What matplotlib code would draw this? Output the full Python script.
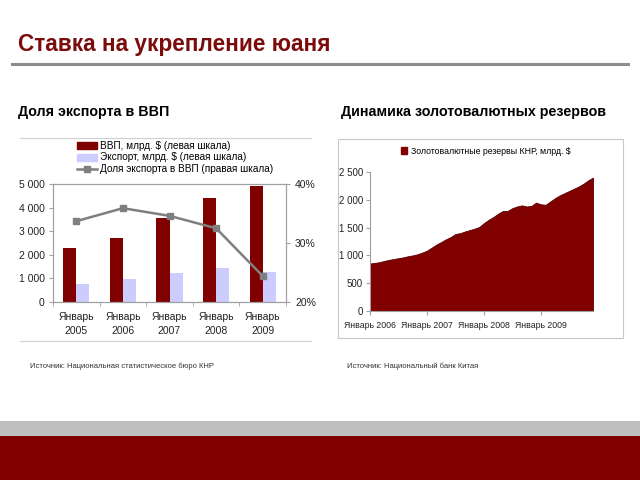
import numpy as np
import matplotlib.pyplot as plt
from matplotlib.lines import Line2D
from matplotlib.patches import Patch, Rectangle

plt.rcParams['font.family'] = ['Liberation Sans', 'DejaVu Sans']

# данные: левый график
years = ['Январь\n2005', 'Январь\n2006', 'Январь\n2007', 'Январь\n2008', 'Январь\n2009']
gdp = [2290, 2710, 3560, 4400, 4910]
export = [760, 970, 1220, 1430, 1260]
share = [33.7, 35.9, 34.6, 32.5, 24.4]

# данные: правый график, помесячно янв 2006 - дек 2009
reserves = [855, 865, 878, 900, 920, 935, 950, 965, 985, 1000, 1020, 1050,
            1085, 1140, 1195, 1240, 1290, 1330, 1385, 1400, 1430, 1455, 1480, 1510,
            1580, 1640, 1690, 1750, 1800, 1800, 1850, 1880, 1900, 1880, 1890, 1950,
            1920, 1910, 1970, 2030, 2080, 2120, 2160, 2200, 2240, 2290, 2350, 2400]
res_ticks = [0, 12, 24, 36]
res_labels = ['Январь 2006', 'Январь 2007', 'Январь 2008', 'Январь 2009']

W, H = 640, 480
DARK = '#800000'
GRID = '#a0a0a0'


def px(x, y, w, h):
    # пиксели -> доли фигуры (y сверху)
    return [x / W, 1 - (y + h) / H, w / W, h / H]


fig = plt.figure(figsize=(6.4, 4.8), dpi=100)
bg = fig.add_axes([0, 0, 1, 1])
bg.set_xlim(0, W)
bg.set_ylim(H, 0)
bg.axis('off')

# шапка
bg.text(18, 45, 'Ставка на укрепление юаня', color='#7a0c0c', fontsize=16.3,
        fontweight='bold', va='center', ha='left')
bg.plot([12, 628], [64, 64], color='#8c8c8c', lw=2.2)
bg.text(18, 112, 'Доля экспорта в ВВП', fontsize=10.3, fontweight='bold', va='center')
bg.text(341, 112, 'Динамика золотовалютных резервов', fontsize=10.3, fontweight='bold', va='center')

# рамки графиков
bg.plot([20, 311], [138, 138], color='#d0d0d0', lw=0.8)
bg.plot([20, 311], [341, 341], color='#d0d0d0', lw=0.8)
bg.add_patch(Rectangle((338, 139), 285, 199, fill=False, ec='#c8c8c8', lw=0.8))

# подписи источников
bg.text(30, 366, 'Источник: Национальная статистическое бюро КНР', fontsize=5.5, va='center', color='#333333')
bg.text(347, 366, 'Источник: Национальный банк Китая', fontsize=5.5, va='center', color='#333333')

# нижние полосы
bg.add_patch(Rectangle((0, 421), W, 15, color='#c0bfc0', lw=0))
bg.add_patch(Rectangle((0, 436), W, 44, color=DARK, lw=0))

# левый график
ax = fig.add_axes(px(53, 184, 233, 118))
x = np.arange(len(years))
bw = 0.28
ax.bar(x - bw / 2, gdp, bw, color=DARK)
ax.bar(x + bw / 2, export, bw, color='#ccccff')
ax.set_xlim(-0.5, len(years) - 0.5)
ax.set_ylim(0, 5000)
ax.set_yticks([0, 1000, 2000, 3000, 4000, 5000])
ax.set_yticklabels(['0', '1 000', '2 000', '3 000', '4 000', '5 000'])
ax.set_xticks(x)
ax.set_xticklabels(years, linespacing=1.55)
ax.set_xticks(np.arange(-0.5, len(years)), minor=True)
ax.tick_params(axis='x', which='major', length=0, pad=7)
ax.tick_params(axis='x', which='minor', length=3, color=GRID)
ax.tick_params(axis='y', length=3, color=GRID, pad=3)
ax.tick_params(labelsize=7.5, labelcolor='#222222')
for s in ax.spines.values():
    s.set_color(GRID)
    s.set_linewidth(0.8)

ax2 = ax.twinx()
ax2.plot(x, share, color='#7f7f7f', lw=1.8, marker='s', ms=4)
ax2.set_ylim(20, 40)
ax2.set_yticks([20, 30, 40])
ax2.set_yticklabels(['20%', '30%', '40%'])
ax2.tick_params(axis='y', length=3, color=GRID, labelsize=7.5, labelcolor='#222222')
for s in ax2.spines.values():
    s.set_color(GRID)
    s.set_linewidth(0.8)

handles = [Patch(color=DARK), Patch(color='#ccccff'),
           Line2D([], [], color='#7f7f7f', lw=1.8, marker='s', ms=4)]
labels = ['ВВП, млрд. $ (левая шкала)', 'Экспорт, млрд. $ (левая шкала)',
          'Доля экспорта в ВВП (правая шкала)']
fig.legend(handles, labels, loc='upper left', bbox_to_anchor=(77 / W, 1 - 141 / H),
           frameon=False, fontsize=7.2, handlelength=2.0, handleheight=0.7,
           labelspacing=0.15, handletextpad=0.3, borderpad=0, borderaxespad=0)

# правый график
axr = fig.add_axes(px(370, 172, 223, 139))
m = np.arange(len(reserves))
axr.fill_between(m, reserves, color=DARK, lw=0.6, ec='#5a0000')
axr.set_xlim(0, len(reserves) - 1)
axr.set_ylim(0, 2500)
axr.set_yticks([0, 500, 1000, 1500, 2000, 2500])
axr.set_yticklabels(['0', '500', '1 000', '1 500', '2 000', '2 500'])
axr.set_xticks(res_ticks)
axr.set_xticklabels(res_labels, fontsize=6.3)
axr.tick_params(length=3, color=GRID, labelsize=7, labelcolor='#222222', pad=2)
axr.tick_params(axis='x', labelsize=6.3, pad=4)
axr.spines['top'].set_visible(False)
axr.spines['right'].set_visible(False)
for s in ['left', 'bottom']:
    axr.spines[s].set_color(GRID)
    axr.spines[s].set_linewidth(0.8)
axr.legend([Patch(color=DARK)], ['Золотовалютные резервы КНР, млрд. $'],
           loc='center', bbox_to_anchor=(0.52, 1.0 + 21 / 139), frameon=False,
           fontsize=6.3, handlelength=0.7, handleheight=0.7, handletextpad=0.4,
           borderpad=0, borderaxespad=0)

fig.savefig('out.png', dpi=100)
